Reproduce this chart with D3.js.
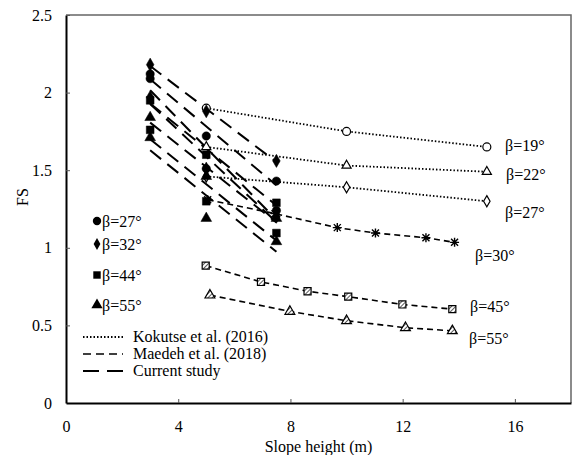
<!DOCTYPE html>
<html><head><meta charset="utf-8">
<script src="https://cdn.jsdelivr.net/npm/d3@7"></script>
<style>body{margin:0;background:#fff}svg{display:block}</style>
</head><body>
<svg id="c" width="572" height="455"></svg>
<script>
// ---- data ----
const xTicks = [0, 4, 8, 12, 16];
const yTicks = [0, 0.5, 1, 1.5, 2, 2.5];
const yTickLabels = ["0", "0.5", "1", "1.5", "2", "2.5"];

const kokutseX = [5, 10, 15];
const kok19 = [1.9, 1.75, 1.65];
const kok22 = [1.65, 1.53, 1.49];
const kok27 = [1.46, 1.39, 1.3];

const mae30X = [5.05, 7.45, 9.67, 11.03, 12.83, 13.85];
const mae30 = [1.31, 1.22, 1.13, 1.095, 1.065, 1.035];
const mae45X = [4.98, 6.95, 8.61, 10.06, 11.99, 13.77];
const mae45 = [0.885, 0.78, 0.72, 0.685, 0.635, 0.605];
const mae55X = [5.13, 7.98, 10.0, 12.1, 13.77];
const mae55 = [0.695, 0.59, 0.53, 0.485, 0.465];

const curX = [3, 5, 7.5];
const cur27a = [2.12, 1.72, 1.43];
const cur27b = [2.09, 1.51, 1.24];
const cur32a = [2.18, 1.88, 1.56];
const cur32b = [1.97, 1.51, 1.2];
const cur44a = [1.95, 1.60, 1.29];
const cur44b = [1.76, 1.30, 1.095];
const cur55a = [1.84, 1.46, 1.19];
const cur55b = [1.71, 1.19, 1.04];

const legendMarkers = [["circle", "β=27°"], ["diamond", "β=32°"], ["square", "β=44°"], ["triangle", "β=55°"]];
const legendLines = [["dot", "Kokutse et al. (2016)"], ["dash", "Maedeh et al. (2018)"], ["long", "Current study"]];

// ---- chart ----
const FONT = "'Liberation Serif', 'Tinos', 'DejaVu Serif', serif";
const svg = d3.select("#c").attr("font-family", FONT);
const x = d3.scaleLinear().domain([0, 18]).range([66, 571]);
const y = d3.scaleLinear().domain([0, 2.5]).range([403, 15]);

const defs = svg.append("defs");
const pat = defs.append("pattern").attr("id", "hatch").attr("patternUnits", "userSpaceOnUse")
  .attr("width", 3).attr("height", 3).attr("patternTransform", "rotate(45)");
pat.append("rect").attr("width", 3).attr("height", 3).attr("fill", "#fff");
pat.append("line").attr("x1", 0).attr("y1", 0).attr("x2", 0).attr("y2", 3).attr("stroke", "#000").attr("stroke-width", 1.3);

const dashes = {dot: "1.5,2", dash: "6,4", long: "14,8"};
const widths = {dot: 1.8, dash: 1.6, long: 2};

function drawSeries(xs, ys, style) {
  const line = d3.line().x(d => x(d[0])).y(d => y(d[1]));
  svg.append("path").datum(xs.map((v, i) => [v, ys[i]]))
    .attr("d", line).attr("fill", "none").attr("stroke", "#000")
    .attr("stroke-width", widths[style]).attr("stroke-dasharray", dashes[style]);
}
// linear trendline (least squares) over the series' x-range
function drawTrend(xs, ys, style) {
  const n = xs.length, mx = d3.mean(xs), my = d3.mean(ys);
  let sxy = 0, sxx = 0;
  for (let i = 0; i < n; i++) { sxy += (xs[i] - mx) * (ys[i] - my); sxx += (xs[i] - mx) ** 2; }
  const b = sxy / sxx, a = my - b * mx;
  const x0 = d3.min(xs), x1 = d3.max(xs);
  drawSeries([x0, x1], [a + b * x0, a + b * x1], style);
}
const symTypes = {circle: d3.symbolCircle, diamond: d3.symbolDiamond, square: d3.symbolSquare, triangle: d3.symbolTriangle};
function drawMarkers(xs, ys, type, fill, size) {
  xs.forEach((v, i) => {
    const g = svg.append("g").attr("transform", `translate(${x(v)},${y(ys[i])})`);
    if (type === "asterisk") {
      g.append("path").attr("d", "M-3.5,-3.5L3.5,3.5M-3.5,3.5L3.5,-3.5M0,-4.5L0,4.5M-4.5,0L4.5,0").attr("stroke", "#000").attr("stroke-width", 1.4);
    } else {
      g.append("path").attr("d", d3.symbol().type(symTypes[type]).size(size)())
        .attr("fill", fill).attr("stroke", "#000").attr("stroke-width", fill === "#000" ? 0.5 : 1.2);
    }
  });
}

// Kokutse (dotted, open)
drawSeries(kokutseX, kok19, "dot");
drawSeries(kokutseX, kok22, "dot");
drawSeries(kokutseX, kok27, "dot");
// Maedeh (dashed)
drawSeries(mae30X, mae30, "dash");
drawSeries(mae45X, mae45, "dash");
drawSeries(mae55X, mae55, "dash");
// Current (long dash trendlines)
[cur27a, cur27b, cur32a, cur32b, cur44a, cur44b, cur55a, cur55b].forEach(s => drawTrend(curX, s, "long"));

drawMarkers(kokutseX, kok19, "circle", "#fff", 50);
drawMarkers(kokutseX, kok22, "triangle", "#fff", 36);
drawMarkers(kokutseX, kok27, "diamond", "#fff", 36);
drawMarkers(mae30X, mae30, "asterisk");
drawMarkers(mae45X, mae45, "square", "url(#hatch)", 50);
drawMarkers(mae55X, mae55, "triangle", "url(#hatch)", 42);
drawMarkers(curX, cur27a, "circle", "#000", 55);
drawMarkers(curX, cur27b, "circle", "#000", 55);
drawMarkers(curX, cur32a, "diamond", "#000", 50);
drawMarkers(curX, cur32b, "diamond", "#000", 50);
drawMarkers(curX, cur44a, "square", "#000", 60);
drawMarkers(curX, cur44b, "square", "#000", 60);
drawMarkers(curX, cur55a, "triangle", "#000", 50);
drawMarkers(curX, cur55b, "triangle", "#000", 50);

// frame top/right
svg.append("path").attr("d", `M${x(0)},${y(2.5)}H${x(18)}V${y(0)}`).attr("fill", "none").attr("stroke", "#666").attr("stroke-width", 1.5);

// axes
const xAxis = svg.append("g").attr("transform", `translate(0,${y(0)})`)
  .call(d3.axisBottom(x).tickValues(xTicks).tickFormat(d3.format("d")).tickSizeInner(-4).tickSizeOuter(0).tickPadding(18));
const yAxis = svg.append("g").attr("transform", `translate(${x(0)},0)`)
  .call(d3.axisLeft(y).tickValues(yTicks).tickFormat((d, i) => yTickLabels[i]).tickSizeInner(-4).tickSizeOuter(0).tickPadding(14));
[xAxis, yAxis].forEach(a => {
  a.attr("font-family", FONT).attr("font-size", 16);
  a.select(".domain").attr("stroke", "#000").attr("stroke-width", 2);
  a.selectAll(".tick line").attr("stroke", "#555").attr("stroke-width", 1);
  a.selectAll("text").attr("fill", "#000");
});
xAxis.selectAll(".tick").filter(d => d === 0).select("line").remove();
yAxis.selectAll(".tick").filter(d => d === 0).select("line").remove();

svg.append("text").attr("x", x(9)).attr("y", 452).attr("text-anchor", "middle").attr("font-size", 16).text("Slope height (m)");
svg.append("text").attr("transform", `translate(28,${(y(0) + y(2.5)) / 2 - 12}) rotate(-90)`).attr("text-anchor", "middle").attr("font-size", 16).text("FS");

// series labels
const labels = [["β=19°", 505, 151], ["β=22°", 506, 180], ["β=27°", 505, 218], ["β=30°", 475, 261], ["β=45°", 470, 312], ["β=55°", 469, 344]];
labels.forEach(l => svg.append("text").attr("x", l[1]).attr("y", l[2]).attr("font-size", 16).text(l[0]));

// marker legend
legendMarkers.forEach((m, i) => {
  const cy = [221, 244, 275, 305][i];
  svg.append("path").attr("transform", `translate(97,${cy})`).attr("d", d3.symbol().type(symTypes[m[0]]).size(m[0] === "diamond" ? 40 : 55)()).attr("fill", "#000");
  svg.append("text").attr("x", 102).attr("y", cy + 6).attr("font-size", 16).text(m[1]);
});
// line legend
legendLines.forEach((m, i) => {
  const cy = [337, 354, 371][i];
  svg.append("line").attr("x1", 83).attr("x2", 123).attr("y1", cy).attr("y2", cy).attr("stroke", "#000")
    .attr("stroke-width", widths[m[0]]).attr("stroke-dasharray", m[0] === "dash" ? "8,5" : m[0] === "long" ? "16,8" : dashes[m[0]]);
  svg.append("text").attr("x", 133).attr("y", cy + 5).attr("font-size", 16).text(m[1]);
});
</script>
</body></html>
